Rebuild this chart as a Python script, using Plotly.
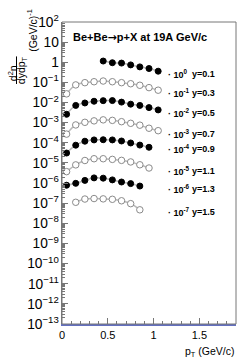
import plotly.graph_objects as go

# ---- data ----
pt_all = [0.05, 0.15, 0.25, 0.35, 0.45, 0.55, 0.65, 0.75, 0.85, 0.95, 1.05]
rap_labels = ["y=0.1", "y=0.3", "y=0.5", "y=0.7", "y=0.9", "y=1.1", "y=1.3", "y=1.5"]
scale_exp = [0, -1, -2, -3, -4, -5, -6, -7]

pt_y01 = [0.45, 0.55, 0.65, 0.75, 0.85, 0.95, 1.05]
val_y01 = [1.15, 0.95, 0.91, 0.74, 0.59, 0.49, 0.36]
pt_y03 = pt_all
val_y03 = [0.27, 0.75, 0.97, 1.08, 1.17, 1.08, 0.97, 0.86, 0.72, 0.55, 0.41]
pt_y05 = pt_all
val_y05 = [0.26, 0.72, 0.95, 1.16, 1.24, 1.25, 1.05, 0.83, 0.72, 0.56, 0.43]
pt_y07 = pt_all
val_y07 = [0.27, 0.77, 1.04, 1.23, 1.38, 1.30, 1.12, 0.93, 0.75, 0.53, 0.40]
pt_y09 = pt_all[:10]
val_y09 = [0.31, 0.76, 1.20, 1.39, 1.42, 1.39, 1.23, 0.98, 0.77, 0.60]
pt_y11 = pt_all[:10]
val_y11 = [0.37, 0.80, 1.32, 1.62, 1.62, 1.50, 1.34, 1.12, 0.81, 0.56]
pt_y13 = pt_all[:9]
val_y13 = [0.78, 0.97, 1.36, 1.81, 1.75, 1.44, 1.13, 0.94, 0.71]
pt_y15 = pt_all[1:9]
val_y15 = [1.11, 1.61, 1.70, 1.64, 1.56, 1.32, 0.95, 0.47]

series_pt = [pt_y01, pt_y03, pt_y05, pt_y07, pt_y09, pt_y11, pt_y13, pt_y15]
series_val = [val_y01, val_y03, val_y05, val_y07, val_y09, val_y11, val_y13, val_y15]

FONT = "Liberation Sans, Arial, sans-serif"
W, H = 249, 361
L, R, T, B = 62, 13, 17, 37
PW, PH = W - L - R, H - T - B

def px2paper_x(px):
    return (px - L) / PW

def px2paper_y(py):
    return 1 - (py - T) / PH

fig = go.Figure()
for i, (xs, vs) in enumerate(zip(series_pt, series_val)):
    f = 10 ** scale_exp[i]
    ys = [v * f for v in vs]
    filled = (i % 2 == 0)
    fig.add_trace(go.Scatter(
        x=xs, y=ys, mode="lines+markers",
        line=dict(color="#b8b8b8", width=1.5, shape="spline", smoothing=1),
        marker=dict(
            symbol="circle", size=6 if filled else 6.5,
            color="black" if filled else "white",
            line=dict(color="black" if filled else "#8a8a8a", width=1),
        ),
        showlegend=False, hoverinfo="skip",
    ))

# right-hand labels (pixel y centres)
label_py = [70, 89.3, 109.3, 130.7, 146, 168.3, 186.7, 210]
annotations = []
for i in range(8):
    annotations.append(dict(
        x=px2paper_x(166), y=px2paper_y(label_py[i]), xref="paper", yref="paper",
        xanchor="left", yanchor="middle", showarrow=False,
        text="· 10<sup>%d</sup>" % scale_exp[i],
        font=dict(family=FONT, size=9, color="black", weight="bold"),
    ))
    annotations.append(dict(
        x=px2paper_x(189.5), y=px2paper_y(label_py[i]), xref="paper", yref="paper",
        xanchor="left", yanchor="middle", showarrow=False,
        text=rap_labels[i],
        font=dict(family=FONT, size=9, color="black", weight="bold"),
    ))

# title
annotations.append(dict(
    x=px2paper_x(71), y=px2paper_y(33), xref="paper", yref="paper",
    xanchor="left", yanchor="middle", showarrow=False,
    text="Be+Be<span style='font-family:DejaVu Sans'>→</span>p+X at 19A GeV/c",
    font=dict(family=FONT, size=11, color="black", weight="bold"),
))
# x axis title
annotations.append(dict(
    x=1.0, y=px2paper_y(352), xref="paper", yref="paper",
    xanchor="right", yanchor="middle", showarrow=False,
    text="p<sub>T</sub> (GeV/c)",
    font=dict(family=FONT, size=10.5, color="black"),
))
# y axis title as a fraction
annotations.append(dict(
    x=px2paper_x(12), y=px2paper_y(69), xref="paper", yref="paper",
    xanchor="center", yanchor="middle", showarrow=False, textangle=-90,
    text="d<sup>2</sup>n", font=dict(family=FONT, size=10.5, color="black"),
))
annotations.append(dict(
    x=px2paper_x(22), y=px2paper_y(66), xref="paper", yref="paper",
    xanchor="center", yanchor="middle", showarrow=False, textangle=-90,
    text="dydp<sub>T</sub>", font=dict(family=FONT, size=10.5, color="black"),
))
annotations.append(dict(
    x=px2paper_x(32), y=px2paper_y(25), xref="paper", yref="paper",
    xanchor="center", yanchor="middle", showarrow=False, textangle=-90,
    text="(GeV/c)<sup>-1</sup>", font=dict(family=FONT, size=10.5, color="black"),
))

shapes = [
    dict(type="line", xref="paper", yref="paper",
         x0=px2paper_x(16.5), x1=px2paper_x(16.5),
         y0=px2paper_y(52), y1=px2paper_y(80),
         line=dict(color="black", width=1)),
    dict(type="rect", xref="paper", yref="paper", x0=0, x1=1, y0=0, y1=1,
         line=dict(color="#777777", width=1), layer="above"),
]

fig.update_layout(
    width=W, height=H,
    margin=dict(l=L, r=R, t=T, b=B, pad=0),
    paper_bgcolor="white", plot_bgcolor="white",
    font=dict(family=FONT, size=11, color="black"),
    annotations=annotations, shapes=shapes,
    showlegend=False,
)
fig.update_xaxes(
    range=[0, 1.9], showgrid=False, zeroline=False,
    showline=True, linecolor="#6470c0", linewidth=2, mirror=False,
    ticks="inside", ticklen=6, tickcolor="#777777", tickwidth=1,
    tickvals=[0, 0.5, 1, 1.5], ticktext=["0", "0.5", "1", "1.5"],
    minor=dict(ticks="inside", ticklen=3, tickcolor="#777777", dtick=0.1, tick0=0, showgrid=False),
    tickfont=dict(family=FONT, size=11),
)
fig.update_yaxes(
    type="log", range=[-13, 2], showgrid=False, zeroline=False,
    showline=True, linecolor="#777777", linewidth=1, mirror=False,
    ticks="inside", ticklen=6, tickcolor="#777777", tickwidth=1,
    dtick=1, exponentformat="power",
    minor=dict(ticks="inside", ticklen=3, tickcolor="#777777", dtick="D1", showgrid=False),
    tickfont=dict(family=FONT, size=11),
)

fig.write_html(
    "out.html",
    config={"displayModeBar": False},
    post_script="document.body.style.margin='0';document.body.style.padding='0';",
)
